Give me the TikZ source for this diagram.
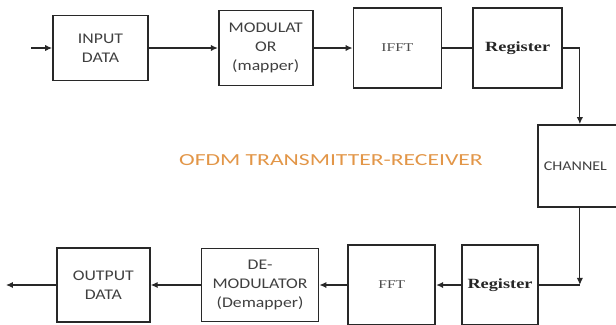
\documentclass[tikz,border=0pt]{standalone}
\usepackage{fontspec}
\newfontfamily\boxfont[FakeStretch=1.2]{Carlito}
\newfontfamily\regfont[FakeStretch=1.3]{Liberation Serif}
\newfontfamily\titlefont[FakeStretch=1.4]{Carlito}
\usepackage{tikz}
\usetikzlibrary{arrows.meta, positioning}
\definecolor{naranjaTitulo}{RGB}{226,150,72}
\definecolor{grisLinea}{RGB}{40,40,40}

\begin{document}
\begin{tikzpicture}[
  x=0.025cm, y=-0.025cm,
  box/.style={rectangle, draw=grisLinea, line width=1.2pt, fill=white,
              align=center, inner sep=1pt, text=black!75,
              font=\boxfont\fontsize{10.5}{13.5}\selectfont},
  regbox/.style={box, font=\regfont\fontsize{10}{12}\selectfont\bfseries, text=black!85},
  fftbox/.style={box, font=\regfont\fontsize{8.5}{10}\selectfont, text=black!70},
  arrow/.style={-{Latex[length=5pt, width=4.5pt]}, line width=0.9pt, grisLinea},
  line/.style={line width=0.9pt, grisLinea}
]
\clip (0,0) rectangle (616,324);

% Transmisor (arriba)
\node[box, minimum width=2.375cm, minimum height=1.625cm] (in) at (100.5,48) {INPUT\\DATA};
\node[box, minimum width=2.35cm, minimum height=1.875cm, right=1.725cm of in] (mod) {MODULAT\\OR\\(mapper)};
\node[fftbox, minimum width=2.2cm, minimum height=2cm, right=0.975cm of mod] (ifft) {IFFT};
\node[regbox, minimum width=2.225cm, minimum height=2cm, right=0.75cm of ifft] (reg) {Register};
\coordinate[left=0.525cm of in.west] (dataIn);

% Canal
\node[box, font=\boxfont\fontsize{9.5}{12}\selectfont, text width=1.8cm, align=left,
      inner xsep=0.15cm, minimum height=2.05cm, anchor=west] (chan) at (537,166) {CHANNEL};

% Receptor (abajo)
\node[regbox, minimum width=1.9cm, minimum height=2cm] (rreg) at (500,285) {Register};
\node[fftbox, minimum width=2.175cm, minimum height=2cm, left=0.625cm of rreg] (fft) {FFT};
\node[box, minimum width=2.925cm, minimum height=1.825cm, left=0.7cm of fft] (demod) {DE-\\MODULATOR\\(Demapper)};
\node[box, minimum width=2.325cm, minimum height=1.85cm, left=1.25cm of demod] (out) {OUTPUT\\DATA};
\coordinate[left=1.25cm of out.west] (dataOut);
\coordinate (join) at (chan.south |- rreg.east);

% Flechas transmisor
\draw[arrow] (dataIn) -- (in);
\draw[arrow] (in) -- (mod);
\draw[arrow] (mod) -- (ifft);
\draw[line] (ifft) -- (reg);
\draw[arrow] (reg) -| (chan);

% Flechas receptor
\draw[line] (rreg) -- (join);
\draw[arrow] (chan) -- (join);
\draw[arrow] (rreg) -- (fft);
\draw[arrow] (fft) -- (demod);
\draw[arrow] (demod) -- (out);
\draw[arrow] (out) -- (dataOut);

% Titulo
\node[font=\titlefont\fontsize{12}{14}\selectfont, text=naranjaTitulo] (titulo) at (331,160) {OFDM TRANSMITTER-RECEIVER};

\end{tikzpicture}
\end{document}
